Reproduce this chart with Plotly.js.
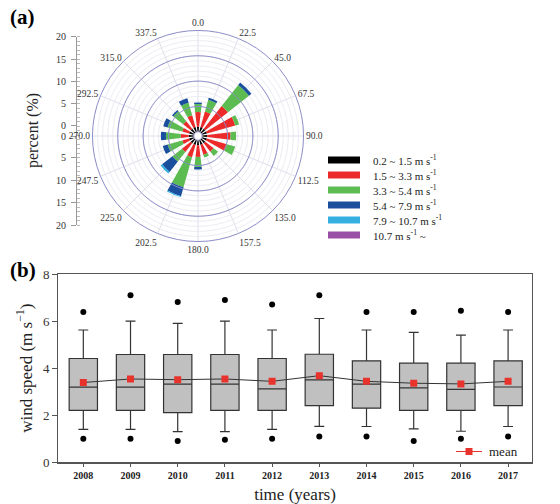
<!DOCTYPE html>
<html>
<head>
<meta charset="utf-8">
<script src="https://cdn.plot.ly/plotly-3.0.1.min.js"></script>
<style>html,body{margin:0;padding:0;background:#fff;}#chart{width:560px;height:504px;}</style>
</head>
<body>
<div id="chart"></div>
<script>
// ---------- (a) wind rose data (percent per speed class) ----------
var directions = [0, 22.5, 45, 67.5, 90, 112.5, 135, 157.5, 180, 202.5, 225, 247.5, 270, 292.5, 315, 337.5];
var directionLabels = ["0.0","22.5","45.0","67.5","90.0","112.5","135.0","157.5","180.0","202.5","225.0","247.5","270.0","292.5","315.0","337.5"];
var speedClasses = ["0.2 ~ 1.5 m s<sup>-1</sup>", "1.5 ~ 3.3 m s<sup>-1</sup>", "3.3 ~ 5.4 m s<sup>-1</sup>", "5.4 ~ 7.9 m s<sup>-1</sup>", "7.9 ~ 10.7 m s<sup>-1</sup>", "10.7 m s<sup>-1</sup> ~"];
var classColors = ["#000000", "#ec2a2a", "#5cbc52", "#1a4f9e", "#35aee0", "#9a4fa6"];
var calm      = [1.0, 1.0, 1.0, 1.0, 1.0, 1.0, 1.0, 1.0, 1.0, 1.0, 1.0, 1.0, 1.0, 1.0, 1.0, 1.0];
var light     = [2.9, 3.2, 5.7, 5.8, 4.6, 4.1, 2.1, 2.0, 2.3, 2.5, 2.2, 1.4, 1.6, 1.4, 1.9, 2.4];
var moderate  = [1.6, 2.4, 5.3, 0.8, 1.1, 1.7, 1.1, 0.6, 2.0, 6.2, 2.4, 3.0, 2.9, 3.0, 2.5, 2.6];
var fresh     = [0.3, 0.4, 0.6, 0.0, 0.0, 0.0, 0.0, 0.0, 0.5, 1.8, 2.6, 1.0, 1.0, 0.9, 0.3, 0.9];
var strong    = [0.0, 0.0, 0.0, 0.0, 0.0, 0.0, 0.0, 0.0, 0.0, 0.2, 0.4, 0.0, 0.0, 0.0, 0.0, 0.0];
var gale      = [0.0, 0.0, 0.0, 0.0, 0.0, 0.0, 0.0, 0.0, 0.0, 0.0, 0.0, 0.0, 0.0, 0.0, 0.0, 0.0];
var classValues = [calm, light, moderate, fresh, strong, gale];
var percentTickText = ["20","15","10","5","0","0","5","10","15","20"];
var majorCircles = [5, 10, 15];

// ---------- (b) box plot data ----------
var years = ["2008","2009","2010","2011","2012","2013","2014","2015","2016","2017"];
var upperWhisker = [5.62, 6.0, 5.9, 6.0, 5.62, 6.11, 5.62, 5.52, 5.4, 5.62];
var q3           = [4.41, 4.58, 4.58, 4.58, 4.41, 4.59, 4.31, 4.21, 4.21, 4.31];
var medians      = [3.19, 3.19, 3.32, 3.32, 3.12, 3.5, 3.32, 3.16, 3.1, 3.2];
var q1           = [2.21, 2.21, 2.11, 2.21, 2.21, 2.41, 2.3, 2.21, 2.21, 2.41];
var lowerWhisker = [1.40, 1.40, 1.30, 1.30, 1.40, 1.53, 1.52, 1.42, 1.32, 1.52];
var highOutliers = [6.39, 7.1, 6.81, 6.9, 6.7, 7.1, 6.39, 6.39, 6.44, 6.39];
var lowOutliers  = [1.0, 1.0, 0.9, 0.96, 1.0, 1.1, 1.1, 0.9, 1.0, 1.1];
var means        = [3.39, 3.54, 3.51, 3.54, 3.44, 3.68, 3.44, 3.36, 3.33, 3.44];

var serif = "Liberation Serif";
var W = 560, H = 504;
function px(x){ return x / W; }
function py(y){ return 1 - y / H; }

var traces = [];
var ringTheta = [];
for (var a = 0; a <= 360; a += 2) ringTheta.push(a);
majorCircles.forEach(function(r){
  traces.push({type:'scatterpolar', mode:'lines', r: ringTheta.map(function(){return r;}), theta: ringTheta,
    line:{color:'#8c8cc8', width:1}, hoverinfo:'skip', showlegend:false});
});
classValues.forEach(function(vals, i){
  traces.push({type:'barpolar', r: vals, theta: directions, width: directions.map(function(){return 13.5;}),
    marker:{color: classColors[i], line:{width:0}}, name: speedClasses[i], showlegend:false});
});
traces.push({type:'scatter', x:[], y:[], xaxis:'x2', yaxis:'y2', showlegend:false, hoverinfo:'skip'});

traces.push({type:'box', x: years, q1: q1, median: medians, q3: q3, lowerfence: lowerWhisker, upperfence: upperWhisker,
  boxpoints:false, fillcolor:'#c0c0c0', line:{color:'#333333', width:1.2}, width:0.6, whiskerwidth:0.35,
  xaxis:'x', yaxis:'y', showlegend:false, hoverinfo:'skip'});
traces.push({type:'scatter', mode:'markers', x: years.concat(years), y: highOutliers.concat(lowOutliers),
  marker:{color:'#000', size:6}, xaxis:'x', yaxis:'y', showlegend:false});
traces.push({type:'scatter', mode:'lines+markers', x: years, y: means, line:{color:'#333', width:1},
  marker:{symbol:'square', size:7, color:'#e8322c'}, xaxis:'x', yaxis:'y', showlegend:false});

var pCx = 198, pCy = 136, pR = 98 * 98 / 91;
var shapes = [], annotations = [];
speedClasses.forEach(function(lbl, i){
  var yc = 160 + 15 * i;
  shapes.push({type:'rect', xref:'paper', yref:'paper', x0:px(328), x1:px(360), y0:py(yc+3.5), y1:py(yc-3.5),
    fillcolor: classColors[i], line:{width:0}});
  annotations.push({xref:'paper', yref:'paper', x:px(371), y:py(yc), xanchor:'left', yanchor:'middle', showarrow:false,
    text: lbl, font:{family:serif, size:11, color:'#222'}});
});
shapes.push({type:'line', xref:'paper', yref:'paper', x0:px(456), x1:px(482), y0:py(451.5), y1:py(451.5), line:{color:'#e8322c', width:1}});
shapes.push({type:'rect', xref:'paper', yref:'paper', x0:px(465.5), x1:px(472.5), y0:py(455), y1:py(448), fillcolor:'#e8322c', line:{width:0}});
annotations.push({xref:'paper', yref:'paper', x:px(487), y:py(451), xanchor:'left', yanchor:'middle', showarrow:false,
  text:'mean', font:{family:serif, size:13, color:'#222'}});
annotations.push({xref:'paper', yref:'paper', x:px(8), y:py(17), xanchor:'left', yanchor:'middle', showarrow:false,
  text:'<b>(a)</b>', font:{family:serif, size:21, color:'#000'}});
annotations.push({xref:'paper', yref:'paper', x:px(8), y:py(270), xanchor:'left', yanchor:'middle', showarrow:false,
  text:'<b>(b)</b>', font:{family:serif, size:21, color:'#000'}});
annotations.push({xref:'paper', yref:'paper', x:px(33), y:py(131), xanchor:'center', yanchor:'middle', showarrow:false,
  textangle:-90, text:'percent (%)', font:{family:serif, size:16, color:'#222'}});

var layout = {
  width: W, height: H, margin:{l:0, r:0, t:0, b:0}, paper_bgcolor:'#fff', plot_bgcolor:'#fff',
  showlegend:false, font:{family:serif},
  polar:{
    domain:{x:[px(pCx-pR), px(pCx+pR)], y:[py(pCy+pR), py(pCy-pR)]},
    bgcolor:'#fff', hole:0.04,
    radialaxis:{range:[0,20], dtick:1, showticklabels:false, ticks:'', showline:false,
      gridcolor:'#e6e6ef', gridwidth:0.8},
    angularaxis:{direction:'clockwise', rotation:90, tickmode:'array', tickvals: directions, ticktext: directionLabels,
      ticks:'', linecolor:'#8c8cc8', linewidth:1, gridcolor:'#d6d6e6', gridwidth:0.8,
      tickfont:{family:serif, size:9.5, color:'#333'}}
  },
  xaxis2:{domain:[px(77), px(80)], visible:false, anchor:'y2'},
  yaxis2:{domain:[py(225), py(36.7)], anchor:'x2', range:[-21,21], tickmode:'array',
    tickvals:[21,16,11,6,1.3,-1.3,-6,-11,-16,-21], ticktext: percentTickText, showline:true, linecolor:'#999', linewidth:1,
    ticks:'outside', ticklen:5, tickcolor:'#999', showgrid:false, zeroline:false, ticklabelstandoff:3,
    minor:{ticks:'inside', dtick:1, ticklen:3, tickcolor:'#bbb'},
    tickfont:{family:serif, size:10, color:'#333'}},
  xaxis:{domain:[px(58.3), px(531.7)], anchor:'y', type:'category', range:[-0.53, 9.5],
    showline:true, mirror:true, linecolor:'#555', linewidth:1.3, ticks:'outside', ticklen:3, tickcolor:'#555',
    tickfont:{family:serif, size:10, color:'#222'}, tickprefix:'<b>', ticksuffix:'</b>', showgrid:false,
    title:{text:'time (years)', font:{family:serif, size:17, color:'#222'}, standoff:8}},
  yaxis:{domain:[py(462.3), py(274)], anchor:'x', range:[0,8], dtick:2, showline:true, mirror:true,
    linecolor:'#555', linewidth:1.3, ticks:'outside', ticklen:5, tickcolor:'#555', showgrid:false, zeroline:false,
    tickfont:{family:serif, size:13, color:'#333'},
    title:{text:'wind speed (m s<sup>−1</sup>)', font:{family:serif, size:17, color:'#222'}, standoff:6}},
  shapes: shapes, annotations: annotations
};
Plotly.newPlot('chart', traces, layout, {staticPlot:true});
</script>
</body>
</html>
